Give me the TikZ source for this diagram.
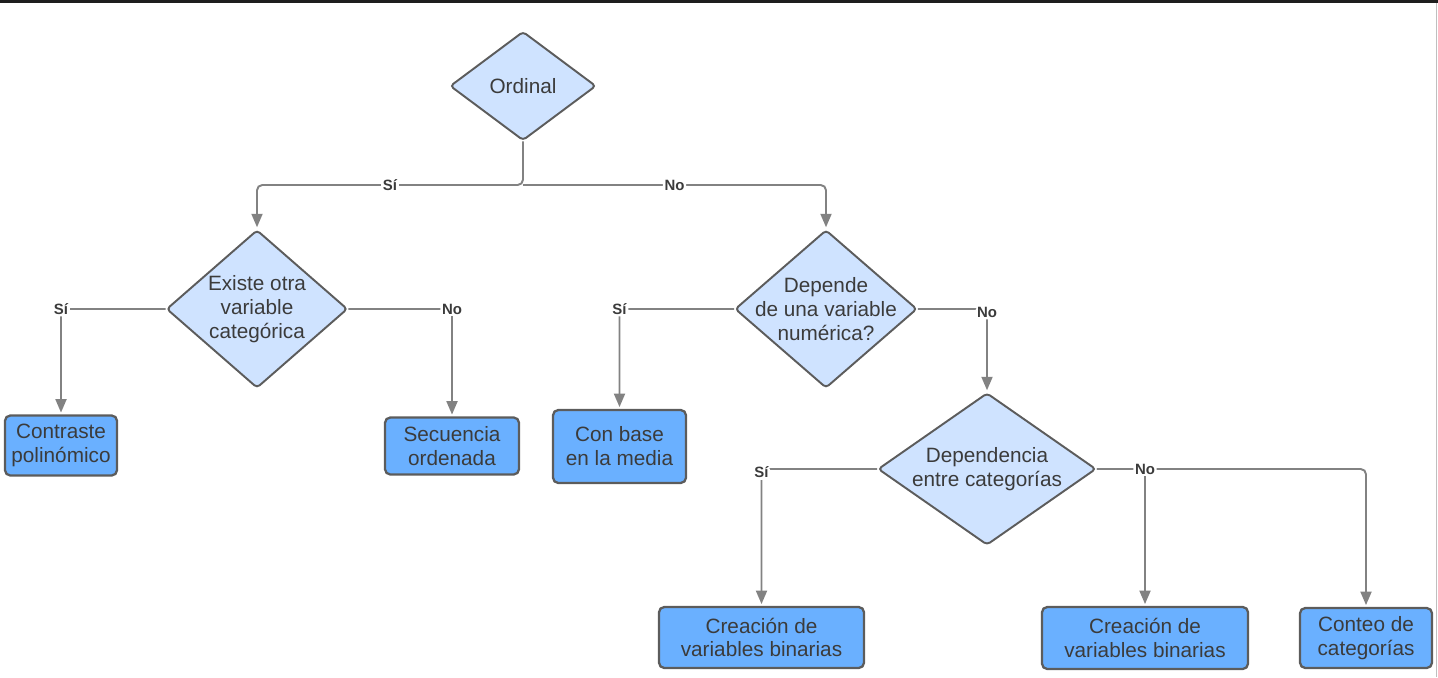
\documentclass[tikz,border=0pt]{standalone}
\usepackage{fontspec}
\setmainfont{Liberation Sans}
\usetikzlibrary{arrows.meta,shapes.geometric}
\definecolor{Ink}{HTML}{3B3B3B}
\definecolor{Edge}{HTML}{5C5C5C}
\definecolor{Wire}{HTML}{828282}
\definecolor{Pale}{HTML}{CFE3FF}
\definecolor{Sky}{HTML}{6AB0FF}
\definecolor{Bar}{HTML}{1E1E1E}

\begin{document}
\begin{tikzpicture}[
    ask/.style={diamond,draw=Edge,fill=Pale,line width=1.1pt,rounded corners=2pt,
      inner xsep=-0.6cm,inner ysep=0pt,align=center,text=Ink,
      font=\fontsize{11.8}{13.6}\selectfont},
    leaf/.style={rounded corners=3pt,draw=Edge,fill=Sky,line width=1.3pt,
      inner sep=0pt,align=center,text=Ink,font=\fontsize{11.8}{13.6}\selectfont},
    conn/.style={-{Triangle[length=0.27cm,width=0.22cm]},line width=1.1pt,Wire,
      rounded corners=3pt,shorten >=1pt},
    tag/.style={fill=white,inner sep=1pt,text=Ink,
      font=\fontsize{8.5}{9}\selectfont\bfseries}
  ]
    \useasboundingbox (0,0) rectangle (28.76,-13.54);
    % screenshot frame
    \fill[Bar] (0,0) rectangle (28.76,-0.07);
    \draw[gray!50,line width=0.4pt] (28.73,-0.07) -- (28.73,-13.54);

    % decisions
    \node[ask,minimum width=2.92cm,minimum height=2.18cm] (ord) at (10.46,-1.72) {Ordinal};
    \node[ask,minimum width=3.62cm,minimum height=3.16cm] (exist) at (5.14,-6.18)
      {Existe otra\\variable\\categórica};
    \node[ask,minimum width=3.64cm,minimum height=3.16cm] (dep) at (16.52,-6.18)
      {Depende\\de una variable\\numérica?};
    \node[ask,minimum width=4.36cm,minimum height=3.04cm] (depc) at (19.74,-9.38)
      {Dependencia\\entre categorías};

    % outcomes
    \node[leaf,minimum width=2.24cm,minimum height=1.2cm] (contr) at (1.22,-8.91)
      {Contraste\\polinómico};
    \node[leaf,minimum width=2.68cm,minimum height=1.14cm] (secu) at (9.04,-8.92)
      {Secuencia\\ordenada};
    \node[leaf,minimum width=2.66cm,minimum height=1.46cm] (media) at (12.39,-8.93)
      {Con base\\en la media};
    \node[leaf,minimum width=4.1cm,minimum height=1.22cm] (cre1) at (15.23,-12.75)
      {Creación de\\variables binarias};
    \node[leaf,minimum width=4.12cm,minimum height=1.24cm] (cre2) at (22.9,-12.76)
      {Creación de\\variables binarias};
    \node[leaf,minimum width=2.64cm,minimum height=1.2cm] (cont) at (27.32,-12.76)
      {Conteo de\\categorías};

    % connectors
    \coordinate (split) at (10.46,-3.7);
    \draw[conn] (ord.south) -- (split) -| node[tag,pos=0.25] {Sí} (exist.north);
    \draw[conn] (split) -| node[tag,pos=0.25] {No} (dep.north);
    \draw[conn] (exist.west) -| node[tag,pos=0.5] {Sí} (contr.north);
    \draw[conn] (exist.east) -| node[tag,pos=0.5] {No} (secu.north);
    \draw[conn] (dep.west) -| node[tag,pos=0.5] {Sí} (media.north);
    \draw[conn] (dep.east) -| node[tag,pos=0.5,yshift=-2pt] {No} (depc.north);
    \draw[conn] (depc.west) -| node[tag,pos=0.5,yshift=-2pt] {Sí} (cre1.north);
    \draw[conn] (depc.east) -| (cont.north);
    \draw[conn] (depc.east) -| node[tag,pos=0.5] {No} (cre2.north);
\end{tikzpicture}
\end{document}
